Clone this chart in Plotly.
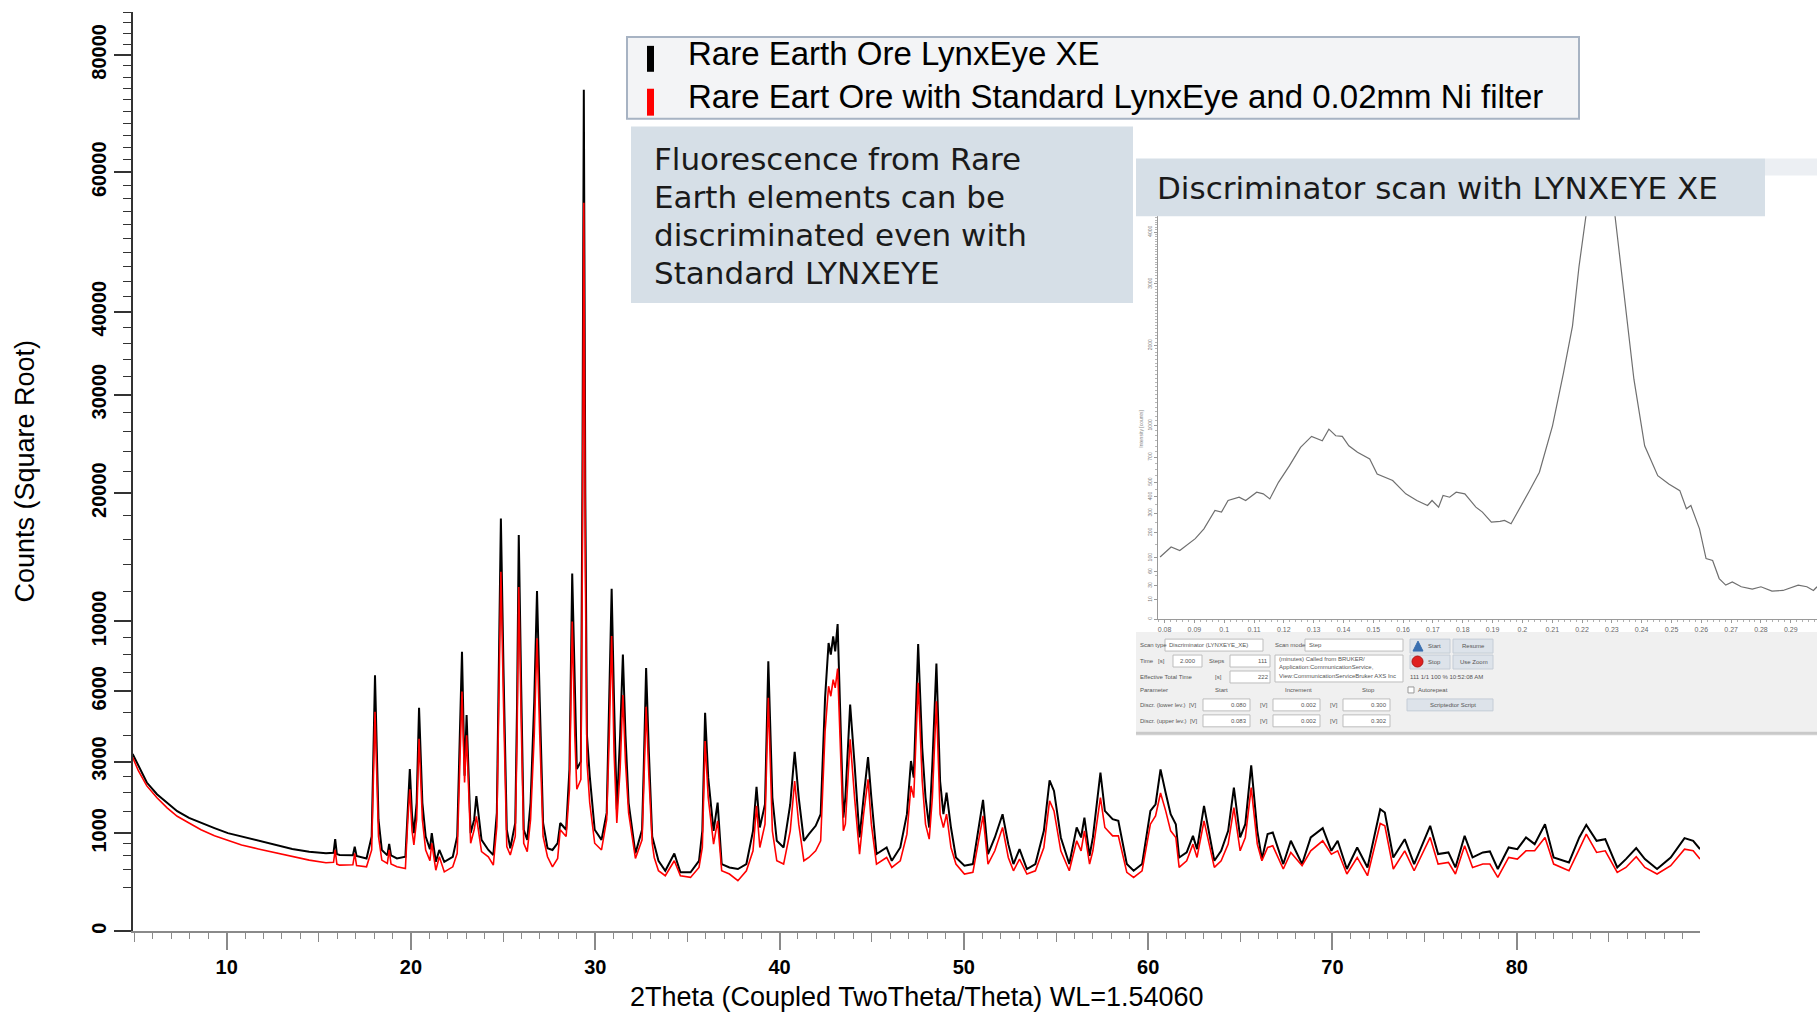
import numpy as np
import plotly.graph_objects as go

W, H = 1817, 1014

# ---------------- main XRD pattern (2Theta, counts) ----------------
two_theta = [
    4.90, 5.21, 5.67, 6.22, 6.77, 7.32, 7.96, 8.61, 9.34, 10.07, 10.81, 11.72, 12.64, 13.56, 14.48, 15.39,
    15.80, 15.89, 15.98, 16.13, 16.85, 16.95, 17.05, 17.59, 17.87, 18.05, 18.24, 18.42, 18.72, 18.82, 18.92,
    19.24, 19.70, 19.83, 19.94, 20.06, 20.16, 20.31, 20.44, 20.62, 20.80, 21.03, 21.13, 21.35, 21.54, 21.81,
    22.27, 22.51, 22.66, 22.77, 22.91, 23.02, 23.24, 23.43, 23.55, 23.83, 24.20, 24.47, 24.66, 24.78, 24.88,
    25.02, 25.20, 25.39, 25.66, 25.76, 25.85, 25.98, 26.12, 26.31, 26.49, 26.69, 26.84, 26.99, 27.17, 27.41,
    27.68, 27.96, 28.10, 28.42, 28.60, 28.75, 28.89, 29.00, 29.22, 29.30, 29.38, 29.46, 29.55, 29.70, 29.97,
    30.34, 30.62, 30.76, 30.89, 31.02, 31.17, 31.35, 31.50, 31.64, 31.81, 32.18, 32.54, 32.63, 32.76, 32.91,
    33.09, 33.20, 33.43, 33.80, 34.29, 34.62, 35.17, 35.63, 35.81, 35.96, 36.13, 36.42, 36.64, 36.86, 37.28,
    37.74, 38.20, 38.56, 38.75, 38.93, 39.21, 39.39, 39.61, 39.85, 40.22, 40.58, 40.82, 41.04, 41.32, 41.59,
    41.96, 42.23, 42.47, 42.66, 42.78, 42.91, 43.02, 43.15, 43.28, 43.46, 43.57, 43.83, 44.07, 44.34, 44.56,
    44.80, 44.98, 45.26, 45.81, 46.09, 46.55, 46.91, 47.13, 47.28, 47.52, 47.74, 47.92, 48.12, 48.29, 48.51,
    48.71, 48.89, 49.06, 49.30, 49.57, 50.03, 50.49, 51.04, 51.31, 51.68, 52.10, 52.41, 52.69, 53.02, 53.42,
    53.88, 54.34, 54.65, 54.89, 55.26, 55.72, 56.12, 56.36, 56.54, 56.82, 57.00, 57.41, 57.65, 58.07, 58.38,
    58.84, 59.21, 59.67, 60.12, 60.40, 60.67, 60.95, 61.22, 61.50, 61.68, 62.09, 62.43, 62.65, 63.03, 63.59,
    63.96, 64.34, 64.65, 64.99, 65.27, 65.59, 65.92, 66.17, 66.48, 66.76, 67.33, 67.74, 68.35, 68.82, 69.47,
    69.94, 70.28, 70.78, 71.34, 71.90, 72.59, 72.84, 73.30, 73.92, 74.43, 75.30, 75.73, 76.29, 76.67, 77.17,
    77.60, 78.16, 78.54, 78.97, 79.56, 80.03, 80.50, 80.97, 81.53, 82.00, 82.83, 83.39, 83.77, 84.33, 84.80,
    85.45, 85.92, 86.48, 86.95, 87.61, 88.35, 89.10, 89.57, 89.94,
]
counts_xe = [
    3276, 2855, 2303, 1954, 1722, 1500, 1337, 1220, 1109, 1003, 935, 857, 776, 705, 660, 632,
    640, 883, 620, 605, 600, 746, 590, 552, 935, 6822, 1297, 688, 600, 794, 600,
    552, 578, 1719, 2740, 1400, 1003, 1719, 5205, 1719, 935, 700, 1003, 502, 688, 502,
    578, 935, 3997, 8137, 2516, 4864, 1003, 1297, 1903, 870, 688, 605, 1459, 7222, 17740,
    7222, 1073, 717, 1220, 5491, 16360, 6327, 1073, 870, 1719, 5491, 12055, 5491, 1220, 717,
    688, 807, 1220, 1073, 2740, 13330, 5491, 2740, 3000, 20000, 73750, 20000, 4000, 2516, 1073,
    870, 1459, 5491, 12220, 5491, 1543, 3997, 7980, 3997, 1719, 632, 1073, 2740, 7222, 3339,
    935, 790, 517, 381, 630, 361, 361, 517, 1050, 4969, 2457, 1050, 1724, 470, 424,
    403, 470, 1050, 2169, 1121, 1680, 7590, 1860, 852, 731, 1680, 3357, 1860, 852, 982,
    1157, 1427, 5673, 8656, 7969, 9058, 8162, 9829, 5673, 1346, 1860, 5355, 2901, 916, 1860,
    3161, 1860, 620, 731, 517, 731, 1427, 3018, 2457, 8597, 3508, 1860, 1121, 2901, 7460,
    2352, 1427, 2002, 1121, 567, 447, 470, 1796, 620, 916, 1427, 790, 470, 702, 403,
    470, 1050, 2373, 2050, 916, 470, 1121, 916, 1346, 593, 916, 2619, 1509, 1307, 1269,
    470, 381, 470, 1509, 1680, 2730, 1990, 1427, 1194, 567, 647, 948, 702, 1636, 517,
    674, 1050, 2148, 916, 1194, 2866, 1050, 542, 982, 1016, 470, 852, 470, 916, 1106,
    674, 852, 403, 731, 424, 1551, 1467, 567, 883, 470, 1157, 620, 647, 424, 948,
    567, 647, 663, 403, 731, 702, 916, 790, 1194, 567, 493, 916, 1179, 852, 883,
    424, 542, 720, 542, 403, 567, 903, 852, 702,
]
counts_std = [
    3153, 2683, 2200, 1857, 1586, 1377, 1220, 1073, 948, 857, 776, 705, 643, 578, 527, 488,
    495, 688, 470, 455, 460, 632, 450, 432, 688, 5018, 935, 527, 480, 688, 470,
    432, 410, 1297, 2099, 1050, 776, 1297, 3860, 1297, 688, 520, 807, 388, 578, 367,
    432, 632, 2972, 5986, 2302, 3997, 807, 1073, 1377, 660, 578, 455, 1145, 6327, 13455,
    5490, 746, 605, 935, 3997, 12343, 4714, 807, 660, 1297, 3997, 8943, 3997, 935, 578,
    432, 552, 1073, 935, 2099, 10000, 3997, 2099, 2400, 14000, 55300, 14000, 3000, 1719, 807,
    688, 1297, 3997, 9084, 3339, 1220, 2739, 5818, 2972, 1459, 552, 870, 2099, 5252, 2516,
    807, 567, 381, 321, 517, 321, 302, 424, 731, 3767, 1860, 790, 1269, 381, 341,
    266, 381, 674, 1637, 731, 1194, 5673, 1050, 517, 470, 1050, 2352, 1194, 517, 567,
    674, 852, 4172, 6253, 5754, 6597, 6170, 7186, 4172, 1050, 1194, 3834, 1860, 620, 1427,
    2405, 1194, 470, 567, 424, 517, 982, 2198, 1860, 6424, 2352, 1194, 883, 1860, 5513,
    1427, 1121, 1427, 731, 470, 341, 361, 1386, 470, 674, 1121, 567, 381, 542, 341,
    381, 731, 1769, 1509, 674, 381, 852, 674, 1050, 470, 674, 1860, 1121, 948, 948,
    361, 302, 381, 1194, 1386, 1990, 1509, 1050, 916, 424, 517, 790, 567, 1269, 424,
    517, 790, 1593, 674, 916, 2148, 790, 517, 731, 760, 403, 647, 447, 674, 852,
    620, 674, 341, 567, 321, 1209, 1157, 403, 674, 381, 916, 470, 493, 341, 760,
    424, 470, 470, 302, 567, 542, 674, 674, 916, 470, 381, 702, 982, 647, 674,
    361, 424, 578, 424, 341, 447, 702, 674, 542,
]
series_names = [
    "Rare Earth Ore LynxEye XE",
    "Rare Eart Ore with Standard LynxEye and 0.02mm Ni filter",
]
series_colors = ["#000000", "#ff0000"]

x_tick_vals = [10, 20, 30, 40, 50, 60, 70, 80]
y_tick_counts = [0, 1000, 3000, 6000, 10000, 20000, 30000, 40000, 60000, 80000]

# ---------------- inset: discriminator scan ----------------
disc_level = [
    0.0785, 0.0822, 0.0851, 0.0903, 0.0932, 0.0969, 0.0991, 0.1013, 0.1050, 0.1072, 0.1109, 0.1131,
    0.1153, 0.1182, 0.1219, 0.1256, 0.1293, 0.1329, 0.1351, 0.1374, 0.1396, 0.1418, 0.1447, 0.1488,
    0.1513, 0.1565, 0.1609, 0.1646, 0.1682, 0.1697, 0.1719, 0.1734, 0.1756, 0.1778, 0.1807, 0.1844,
    0.1866, 0.1896, 0.1925, 0.1940, 0.1962, 0.1991, 0.2021, 0.2057, 0.2101, 0.2138, 0.2168, 0.2190,
    0.2219, 0.2263, 0.2307, 0.2337, 0.2374, 0.2410, 0.2454, 0.2491, 0.2528, 0.2550, 0.2565, 0.2594,
    0.2616, 0.2638, 0.2660, 0.2682, 0.2704, 0.2734, 0.2771, 0.2800, 0.2837, 0.2874, 0.2925, 0.2954,
    0.2976, 0.2988,
]
disc_counts = [
    103, 139, 126, 173, 218, 315, 306, 376, 397, 376, 430, 419,
    386, 500, 629, 788, 892, 850, 964, 898, 892, 803, 743, 685,
    563, 513, 419, 376, 345, 376, 335, 408, 397, 430, 419, 335,
    306, 251, 255, 260, 243, 325, 430, 576, 998, 1622, 2293, 3324,
    4547, 7000, 4547, 3018, 1537, 803, 550, 488, 441, 325, 345, 218,
    98, 92, 44, 31, 37, 28, 24, 28, 21, 22, 31, 28,
    22, 28,
]
disc_x_ticks = [0.08, 0.09, 0.10, 0.11, 0.12, 0.13, 0.14, 0.15, 0.16, 0.17, 0.18,
                0.19, 0.20, 0.21, 0.22, 0.23, 0.24, 0.25, 0.26, 0.27, 0.28, 0.29]
disc_y_ticks = [0, 10, 30, 60, 100, 200, 300, 400, 500, 700, 1000, 2000, 3000, 4000]

box1_lines = ["Fluorescence from Rare", "Earth elements can be",
              "discriminated even with", "Standard LYNXEYE"]
box2_text = "Discriminator scan with LYNXEYE XE"
x_title = "2Theta (Coupled TwoTheta/Theta) WL=1.54060"
y_title = "Counts (Square Root)"


# ---------------- helpers ----------------
def px(x):
    return x / W


def py(y):
    return 1 - y / H


ARIAL = "Liberation Sans, Arial, sans-serif"
VERD = "DejaVu Sans, Verdana, sans-serif"

fig = go.Figure()
for name, col, vals, w in [(series_names[0], series_colors[0], counts_xe, 2.0),
                           (series_names[1], series_colors[1], counts_std, 1.6)]:
    fig.add_trace(go.Scatter(x=two_theta, y=np.sqrt(np.array(vals, dtype=float)), mode="lines",
                             name=name, line=dict(color=col, width=w), xaxis="x", yaxis="y"))
fig.add_trace(go.Scatter(x=[None], y=[None], xaxis="x3", yaxis="y", showlegend=False, hoverinfo="skip"))
fig.add_trace(go.Scatter(x=disc_level, y=np.sqrt(np.array(disc_counts, dtype=float)), mode="lines",
                         line=dict(color="#6f6f6f", width=1.2), xaxis="x2", yaxis="y2",
                         name="Discriminator scan", showlegend=False))

x_range = [4.92, 89.94]
x_minor = [v for v in range(5, 90) if v % 5 != 0]
y_minor_counts = ([200, 400, 600, 800, 1500, 2000, 2500, 4000, 5000, 7000, 8000, 9000]
                  + [c for c in range(12000, 89000, 2000) if c not in y_tick_counts])
tick_font = dict(family=ARIAL, size=20, color="black", weight="bold")

fig.update_layout(
    width=W, height=H, autosize=False,
    margin=dict(l=0, r=0, t=0, b=0),
    paper_bgcolor="white", plot_bgcolor="rgba(0,0,0,0)",
    showlegend=False,
    xaxis=dict(domain=[px(133), px(1700)], range=x_range, anchor="y",
               showline=True, linecolor="#8a8a8a", linewidth=2,
               ticks="outside", ticklen=17, tickwidth=1.5, tickcolor="#8a8a8a",
               tickvals=x_tick_vals, ticktext=[str(v) for v in x_tick_vals],
               tickfont=tick_font, showgrid=False, zeroline=False,
               minor=dict(tickmode="array", tickvals=x_minor, ticks="outside", ticklen=6,
                          tickwidth=1.2, tickcolor="#8a8a8a", showgrid=False)),
    xaxis3=dict(overlaying="x", anchor="y", range=x_range,
                tickvals=[5, 15, 25, 35, 45, 55, 65, 75, 85], ticks="outside", ticklen=10,
                tickwidth=1.2, tickcolor="#8a8a8a", showticklabels=False,
                showline=False, showgrid=False, zeroline=False),
    yaxis=dict(domain=[py(934), py(12)], range=[0, 296.7], anchor="x",
               showline=True, linecolor="#333333", linewidth=2,
               ticks="outside", ticklen=17, tickwidth=1.5, tickcolor="#333333",
               tickvals=list(np.sqrt(y_tick_counts)), ticktext=[str(c) for c in y_tick_counts],
               tickangle=-90, tickfont=tick_font, showgrid=False, zeroline=False,
               minor=dict(tickmode="array", tickvals=list(np.sqrt(y_minor_counts)), ticks="outside",
                          ticklen=8, tickwidth=1.2, tickcolor="#333333", showgrid=False)),
    xaxis2=dict(domain=[px(1158), 1.0], range=[0.0778, 0.2988], anchor="y2",
                showline=True, linecolor="#9a9a9a", linewidth=1,
                ticks="outside", ticklen=3, tickcolor="#9a9a9a",
                tickvals=disc_x_ticks, ticktext=[("%.2f" % v).rstrip("0") if v in (0.1, 0.2) else "%.2f" % v
                                                 for v in disc_x_ticks],
                tickfont=dict(family=ARIAL, size=7, color="#666666"),
                showgrid=False, zeroline=False,
                minor=dict(tickmode="array", tickvals=list(np.arange(0.078, 0.299, 0.002)),
                           ticks="outside", ticklen=2, tickcolor="#b0b0b0", showgrid=False)),
    yaxis2=dict(domain=[py(621), py(160)], range=[0, 75.1], anchor="x2",
                showline=True, linecolor="#9a9a9a", linewidth=1,
                ticks="outside", ticklen=3, tickcolor="#9a9a9a",
                tickvals=list(np.sqrt(disc_y_ticks)), ticktext=[str(v) for v in disc_y_ticks],
                tickangle=-90,
                tickfont=dict(family=ARIAL, size=5, color="#777777"),
                showgrid=False, zeroline=False,
                minor=dict(tickmode="array", tickvals=list(np.sqrt(np.arange(0, 5600, 50))),
                           ticks="outside", ticklen=2, tickcolor="#b8b8b8", showgrid=False)),
)


def rect(x0, y0, x1, y1, fill, line=None, lw=0, layer="below"):
    fig.add_shape(type="rect", xref="paper", yref="paper",
                  x0=px(x0), x1=px(x1), y0=py(y1), y1=py(y0), layer=layer,
                  fillcolor=fill, line=dict(color=line or fill, width=lw))


def text(t, x, y, size=7, color="#444444", anchor="left", family=ARIAL, angle=0):
    fig.add_annotation(text=t, x=px(x), y=py(y), xref="paper", yref="paper", showarrow=False,
                       xanchor=anchor, yanchor="middle", textangle=angle,
                       font=dict(family=family, size=size, color=color))


# ---- screenshot inset decoration ----
rect(1765, 159, 1817, 176, "#eceff3")
rect(1136, 634, 1817, 738, "#f0f0f0")
rect(1136, 734, 1817, 737, "#c9c9c9")
text("Intensity [counts]", 1141, 430, size=5, color="#888888", anchor="center", angle=-90)

fields = [(1165, 641, 1263, 653), (1305, 641, 1403, 653), (1173, 657, 1202, 669), (1230, 657, 1270, 669),
          (1275, 657, 1403, 684), (1230, 673, 1270, 685), (1203, 701, 1250, 713), (1273, 701, 1320, 713),
          (1343, 701, 1390, 713), (1203, 717, 1250, 729), (1273, 717, 1320, 729), (1343, 717, 1390, 729)]
for f in fields:
    rect(*f, "#ffffff", "#bdbdbd", 1)
buttons = [(1410, 641, 1450, 655), (1453, 641, 1493, 655), (1410, 657, 1450, 671),
           (1453, 657, 1493, 671), (1407, 701, 1493, 713)]
for b in buttons:
    rect(*b, "#dde3ea", "#c4ccd6", 1)
fig.add_shape(type="circle", xref="paper", yref="paper", x0=px(1412), x1=px(1423), y0=py(669), y1=py(658),
              fillcolor="#e02020", line=dict(color="#b01010", width=1), layer="below")
fig.add_shape(type="path", xref="paper", yref="paper", layer="below",
              path="M %f %f L %f %f L %f %f Z" % (px(1413), py(653), px(1418), py(643), px(1423), py(653)),
              fillcolor="#3a6fb0", line=dict(color="#3a6fb0", width=1))
rect(1408, 689, 1414, 695, "#ffffff", "#999999", 1)

panel_text = [
    ("Scan type", 1138, 647), ("Discriminator (LYNXEYE_XE)", 1167, 647), ("Scan mode", 1273, 647),
    ("Step", 1307, 647), ("Start", 1426, 648), ("Resume", 1460, 648),
    ("Time   [s]", 1138, 663), ("2.000", 1178, 663), ("Steps", 1207, 663), ("111", 1256, 663),
    ("(minutes) Called from BRUKER/", 1277, 661), ("Application:CommunicationService,", 1277, 669),
    ("View:CommunicationServiceBruker AXS Inc", 1277, 678), ("Stop", 1426, 664), ("Use Zoom", 1458, 664),
    ("Effective Total Time", 1138, 679), ("[s]", 1213, 679), ("222", 1256, 679),
    ("111 1/1 100 % 10:52:08 AM", 1408, 679),
    ("Parameter", 1138, 692), ("Start", 1213, 692), ("Increment", 1283, 692), ("Stop", 1360, 692),
    ("Autorepeat", 1416, 692),
    ("Discr. (lower lev.)  [V]", 1138, 707), ("0.080", 1229, 707), ("[V]", 1258, 707), ("0.002", 1299, 707),
    ("[V]", 1328, 707), ("0.300", 1369, 707), ("Scriptedtor Script", 1428, 707),
    ("Discr. (upper lev.)  [V]", 1138, 723), ("0.083", 1229, 723), ("[V]", 1258, 723), ("0.002", 1299, 723),
    ("[V]", 1328, 723), ("0.302", 1369, 723),
]
for t, x, y in panel_text:
    text(t, x, y, size=6, color="#555555")

# ---- legend box ----
rect(627, 37, 1579, 119, "#f3f4f6", "#a7b3c3", 2, layer="above")
rect(647, 46, 654, 72, series_colors[0], layer="above")
rect(647, 89, 654, 116, series_colors[1], layer="above")
text(series_names[0], 686, 54, size=33, color="black")
text(series_names[1], 686, 97, size=33, color="black")

# ---- text boxes ----
rect(631, 127, 1133, 304, "#d6dfe7", layer="above")
for i, line in enumerate(box1_lines):
    text(line, 652, 159 + i * 38.2, size=31, color="#1a1a1a", family=VERD)
rect(1136, 159, 1765, 217, "#d6dfe7", layer="above")
text(box2_text, 1155, 189, size=31, color="#1a1a1a", family=VERD)

# ---- axis titles ----
text(x_title, 917, 1000, size=27, color="black", anchor="center", family=ARIAL)
text(y_title, 25, 473, size=27, color="black", anchor="center", family=ARIAL, angle=-90)

fig.write_html("out.html")
